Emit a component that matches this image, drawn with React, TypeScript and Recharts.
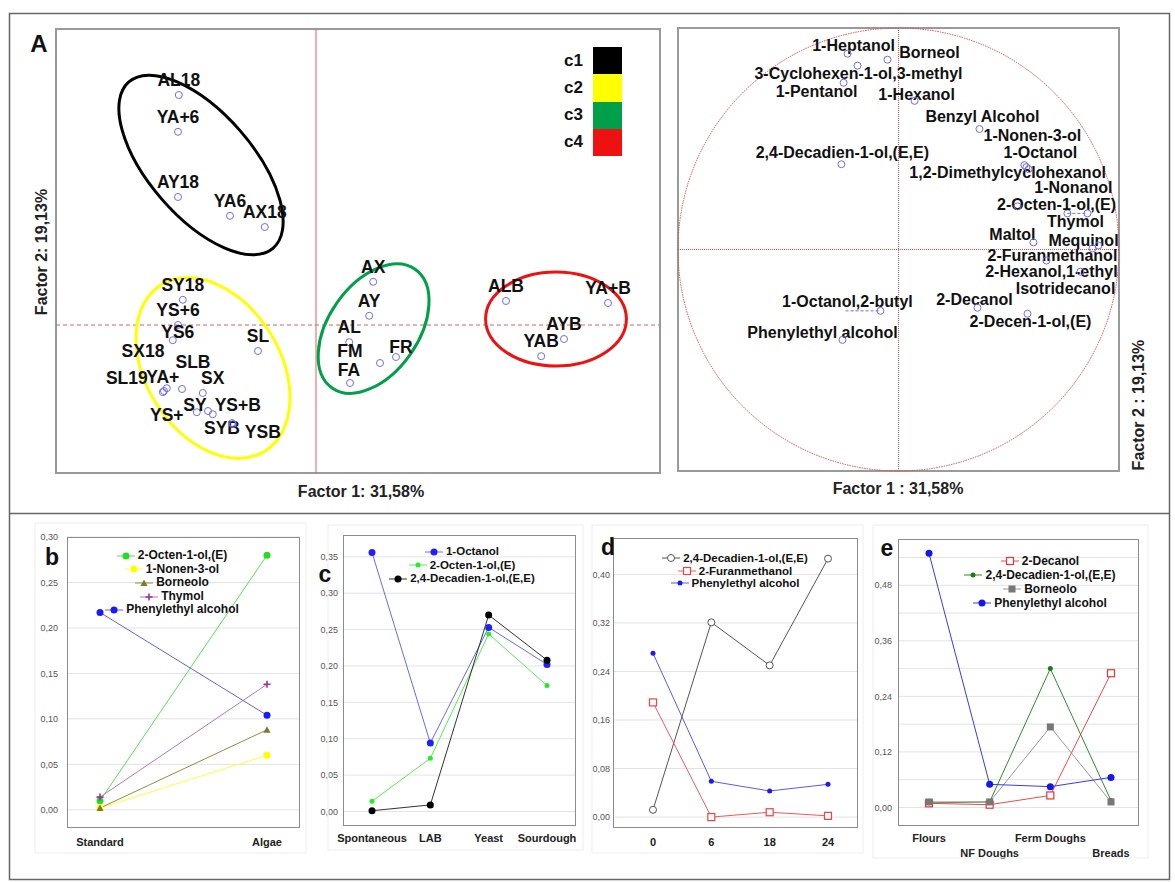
import React from "react";
import {
  ScatterChart,
  Scatter,
  LineChart,
  Line,
  XAxis,
  YAxis,
  ReferenceLine,
  ReferenceArea,
  ReferenceDot,
} from "recharts";

const FONT = "'Liberation Sans', Arial, Helvetica, sans-serif";

// ---------- A (left): sample scores on factor 1 / factor 2 ----------
const clusterC1 = [
  { name: "AL18", f1: -3.43, f2: 5.75 },
  { name: "YA+6", f1: -3.45, f2: 4.83 },
  { name: "AY18", f1: -3.45, f2: 3.2 },
  { name: "YA6", f1: -2.15, f2: 2.73 },
  { name: "AX18", f1: -1.28, f2: 2.45 },
];
const clusterC2 = [
  { name: "SY18", f1: -3.33, f2: 0.63 },
  { name: "YS+6", f1: -3.45, f2: 0.0 },
  { name: "YS6", f1: -3.58, f2: -0.38 },
  { name: "SL", f1: -1.45, f2: -0.65 },
  { name: "SL19", f1: -3.83, f2: -1.68 },
  { name: "SX18", f1: -3.8, f2: -1.65 },
  { name: "YA+", f1: -3.73, f2: -1.58 },
  { name: "SLB", f1: -3.35, f2: -1.6 },
  { name: "SX", f1: -2.83, f2: -1.7 },
  { name: "YS+", f1: -2.98, f2: -2.18 },
  { name: "SY", f1: -2.7, f2: -2.15 },
  { name: "YS+B", f1: -2.58, f2: -2.23 },
  { name: "SYB", f1: -2.1, f2: -2.45 },
  { name: "YSB", f1: -2.08, f2: -2.48 },
];
const clusterC3 = [
  { name: "AX", f1: 1.43, f2: 1.08 },
  { name: "AY", f1: 1.33, f2: 0.23 },
  { name: "AL", f1: 0.83, f2: -0.43 },
  { name: "FM", f1: 1.6, f2: -0.95 },
  { name: "FR", f1: 2.0, f2: -0.8 },
  { name: "FA", f1: 0.85, f2: -1.45 },
];
const clusterC4 = [
  { name: "ALB", f1: 4.75, f2: 0.6 },
  { name: "YA+B", f1: 7.3, f2: 0.55 },
  { name: "AYB", f1: 6.2, f2: -0.35 },
  { name: "YAB", f1: 5.63, f2: -0.78 },
];
// cluster ellipses: centre, semi-axes (factor units), tilt in degrees
const clusterEllipses = [
  { id: "c1", f1: -2.875, f2: 4.0, a: 2.75, b: 1.3, tilt: 49 },
  { id: "c2", f1: -2.575, f2: -1.075, a: 2.45, b: 1.675, tilt: 58 },
  { id: "c3", f1: 1.44, f2: -0.09, a: 1.81, b: 1.12, tilt: -55 },
  { id: "c4", f1: 6.0, f2: 0.15, a: 1.76, b: 1.175, tilt: 0 },
];
const clusterIds = ["c1", "c2", "c3", "c4"];

// ---------- A (right): variable loadings ----------
const loadings = [
  { name: "1-Heptanol", f1: -0.231, f2: 0.884 },
  { name: "Borneol", f1: -0.05, f2: 0.857 },
  { name: "3-Cyclohexen-1-ol,3-methyl", f1: -0.186, f2: 0.83 },
  { name: "1-Pentanol", f1: -0.249, f2: 0.753 },
  { name: "1-Hexanol", f1: 0.073, f2: 0.671 },
  { name: "Benzyl Alcohol", f1: 0.367, f2: 0.544 },
  { name: "1-Nonen-3-ol", f1: 0.571, f2: 0.381 },
  { name: "1-Octanol", f1: 0.58, f2: 0.372 },
  { name: "1,2-Dimethylcyclohexanol", f1: 0.59, f2: 0.363 },
  { name: "2,4-Decadien-1-ol,(E,E)", f1: -0.259, f2: 0.385 },
  { name: "1-Nonanol", f1: 0.766, f2: 0.163 },
  { name: "2-Octen-1-ol,(E)", f1: 0.54, f2: 0.195 },
  { name: "Thymol", f1: 0.857, f2: 0.163 },
  { name: "Maltol", f1: 0.612, f2: 0.032 },
  { name: "Mequinol", f1: 0.907, f2: 0.018 },
  { name: "Isotridecanol", f1: 0.88, f2: 0.005 },
  { name: "2-Furanmethanol", f1: 0.671, f2: -0.05 },
  { name: "2-Hexanol,1-ethyl", f1: 0.825, f2: -0.1 },
  { name: "2-Decanol", f1: 0.358, f2: -0.263 },
  { name: "2-Decen-1-ol,(E)", f1: 0.585, f2: -0.29 },
  { name: "1-Octanol,2-butyl", f1: -0.082, f2: -0.277 },
  { name: "Phenylethyl alcohol", f1: -0.254, f2: -0.408 },
];
const thymolLink = [
  { f1: 0.766, f2: 0.163 },
  { f1: 0.857, f2: 0.163 },
];
const butylLink = [
  { f1: -0.24, f2: -0.277 },
  { f1: -0.082, f2: -0.277 },
];

// ---------- b ----------
const bCategories = ["Standard", "Algae"];
const bOctenol = [0.01, 0.28];
const bNonenol = [0.002, 0.06];
const bBorneolo = [0.002, 0.088];
const bThymol = [0.014, 0.138];
const bPhenylethyl = [0.217, 0.104];
const bTicks = [0, 0.05, 0.1, 0.15, 0.2, 0.25, 0.3];

// ---------- c ----------
const cCategories = ["Spontaneous", "LAB", "Yeast", "Sourdough"];
const cOctanol = [0.356, 0.094, 0.253, 0.202];
const cOctenol = [0.014, 0.073, 0.244, 0.173];
const cDecadienol = [0.001, 0.009, 0.27, 0.208];
const cTicks = [0, 0.05, 0.1, 0.15, 0.2, 0.25, 0.3, 0.35];

// ---------- d ----------
const dCategories = ["0", "6", "18", "24"];
const dDecadienol = [0.012, 0.321, 0.25, 0.426];
const dFuranmethanol = [0.189, 0.0, 0.008, 0.002];
const dPhenylethyl = [0.27, 0.059, 0.043, 0.054];
const dTicks = [0, 0.08, 0.16, 0.24, 0.32, 0.4];

// ---------- e ----------
const eCategories = ["Flours", "NF Doughs", "Ferm Doughs", "Breads"];
const eDecanol = [0.009, 0.006, 0.026, 0.29];
const eDecadienol = [0.01, 0.012, 0.3, 0.015];
const eBorneolo = [0.012, 0.012, 0.174, 0.012];
const ePhenylethyl = [0.549, 0.05, 0.045, 0.065];
const eTicks = [0, 0.12, 0.24, 0.36, 0.48];
const eGrid = [0, 0.06, 0.12, 0.18, 0.24, 0.3, 0.36, 0.42, 0.48, 0.54];

// ---------- styling ----------
const clusterColor: Record<string, string> = {
  c1: "#000000",
  c2: "#ffff00",
  c3: "#00a04a",
  c4: "#ee1111",
};
const scoreLabelOffset: Record<string, [number, number]> = {
  YS6: [5, -8],
  SL19: [-36, -14],
  SX18: [-21, -40],
  "YA+": [-4, -11],
  SLB: [11, -27],
  SX: [10, -15],
  "YS+": [-30, 3],
  SY: [-13, -6],
  "YS+B": [25, -9],
  SYB: [-10, 5],
  YSB: [30, 8],
  FM: [-30, -12],
  FR: [5, -10],
  FA: [-1, -13],
};
const loadLabelOffset: Record<string, [number, number]> = {
  "1-Heptanol": [6, -8],
  Borneol: [42, -7],
  "3-Cyclohexen-1-ol,3-methyl": [1, 8],
  "1-Pentanol": [-27, 9],
  "1-Hexanol": [2, -6],
  "Benzyl Alcohol": [3, -13],
  "1-Nonen-3-ol": [8, -30],
  "1-Octanol": [14, -15],
  "1,2-Dimethylcyclohexanol": [-21, 3],
  "2,4-Decadien-1-ol,(E,E)": [1, -12],
  "1-Nonanol": [6, -26],
  "2-Octen-1-ol,(E)": [39, -2],
  Thymol: [-12, 8],
  Maltol: [-21, -8],
  Mequinol: [-15, -5],
  Isotridecanol: [-27, 40],
  "2-Furanmethanol": [6, -5],
  "2-Hexanol,1-ethyl": [-29, 0],
  "2-Decanol": [-3, -8],
  "2-Decen-1-ol,(E)": [3, 8],
  "1-Octanol,2-butyl": [-33, -9],
  "Phenylethyl alcohol": [-20, -7],
};

const SCORE_X: [number, number] = [-6.5, 8.6];
const SCORE_Y: [number, number] = [-3.7, 7.4];
const SCORE_W = 680;
const SCORE_H = 510;
const SCORE_M = { top: 29, left: 56, right: 20, bottom: 37 };
const SCORE_PX = (SCORE_W - SCORE_M.left - SCORE_M.right) / (SCORE_X[1] - SCORE_X[0]);

const LOAD_W = 515;
const LOAD_H = 510;
const LOAD_M = { top: 28, left: 18, right: 56, bottom: 39 };
const LOAD_PW = LOAD_W - LOAD_M.left - LOAD_M.right;
const LOAD_PH = LOAD_H - LOAD_M.top - LOAD_M.bottom;

const comma = (v: number) => v.toFixed(2).replace(".", ",");

function ScorePoint(props: any) {
  const { cx, cy, payload } = props;
  const [dx, dy] = scoreLabelOffset[payload.name] ?? [0, -15];
  return (
    <g>
      <text
        x={cx + dx}
        y={cy + dy}
        textAnchor="middle"
        dominantBaseline="central"
        fontFamily={FONT}
        fontWeight="bold"
        fontSize={17.5}
        fill="#111"
      >
        {payload.name}
      </text>
      <circle cx={cx} cy={cy} r={3.5} fill="none" stroke="#6f6fe6" strokeWidth={1} />
    </g>
  );
}

function ClusterEllipse(props: any) {
  const { cx, cy, payload } = props;
  return (
    <ellipse
      cx={cx}
      cy={cy}
      rx={payload.a * SCORE_PX}
      ry={payload.b * SCORE_PX}
      transform={`rotate(${payload.tilt} ${cx} ${cy})`}
      fill="none"
      stroke={clusterColor[payload.id]}
      strokeWidth={3}
    />
  );
}

function LoadPoint(props: any) {
  const { cx, cy, payload } = props;
  const [dx, dy] = loadLabelOffset[payload.name] ?? [0, -12];
  return (
    <g>
      <text
        x={cx + dx}
        y={cy + dy}
        textAnchor="middle"
        dominantBaseline="central"
        fontFamily={FONT}
        fontWeight="bold"
        fontSize={16}
        fill="#111"
      >
        {payload.name}
      </text>
      <circle cx={cx} cy={cy} r={3.5} fill="none" stroke="#6f6fe6" strokeWidth={1} />
    </g>
  );
}

function ScorePlot() {
  return (
    <div style={{ position: "absolute", left: 0, top: 0, width: SCORE_W, height: SCORE_H }}>
      <ScatterChart width={SCORE_W} height={SCORE_H} margin={SCORE_M}>
        <XAxis type="number" dataKey="f1" domain={SCORE_X} hide allowDataOverflow />
        <YAxis type="number" dataKey="f2" domain={SCORE_Y} hide allowDataOverflow />
        <ReferenceArea
          x1={SCORE_X[0]}
          x2={SCORE_X[1]}
          y1={SCORE_Y[0]}
          y2={SCORE_Y[1]}
          fill="none"
          stroke="#9a9a9a"
          strokeWidth={2}
        />
        <ReferenceLine x={0} stroke="#e06060" strokeWidth={1} />
        <ReferenceLine y={0} stroke="#e06060" strokeWidth={1} strokeDasharray="4 3" />
        <Scatter data={clusterEllipses} shape={ClusterEllipse} isAnimationActive={false} />
        <Scatter data={clusterC1} shape={ScorePoint} isAnimationActive={false} />
        <Scatter data={clusterC2} shape={ScorePoint} isAnimationActive={false} />
        <Scatter data={clusterC3} shape={ScorePoint} isAnimationActive={false} />
        <Scatter data={clusterC4} shape={ScorePoint} isAnimationActive={false} />
      </ScatterChart>
    </div>
  );
}

function LoadingPlot() {
  return (
    <div style={{ position: "absolute", left: 660, top: 0, width: LOAD_W, height: LOAD_H }}>
      <ScatterChart width={LOAD_W} height={LOAD_H} margin={LOAD_M}>
        <XAxis type="number" dataKey="f1" domain={[-1, 1]} hide allowDataOverflow />
        <YAxis type="number" dataKey="f2" domain={[-1, 1]} hide allowDataOverflow />
        <ReferenceArea x1={-1} x2={1} y1={-1} y2={1} fill="none" stroke="#9a9a9a" strokeWidth={2} />
        <ReferenceLine x={0} stroke="#ff4040" strokeWidth={1} strokeDasharray="1 1" />
        <ReferenceLine y={0} stroke="#ff4040" strokeWidth={1} strokeDasharray="1 1" />
        <ReferenceDot
          x={0}
          y={0}
          shape={(p: any) => (
            <ellipse
              cx={p.cx}
              cy={p.cy}
              rx={LOAD_PW / 2}
              ry={LOAD_PH / 2}
              fill="none"
              stroke="#d85050"
              strokeWidth={1}
              strokeDasharray="1.5 1"
            />
          )}
        />
        <Scatter
          data={thymolLink}
          line={{ stroke: "#6f6fe6", strokeDasharray: "3 2" }}
          shape={() => <g />}
          isAnimationActive={false}
        />
        <Scatter
          data={butylLink}
          line={{ stroke: "#6f6fe6", strokeDasharray: "3 2" }}
          shape={() => <g />}
          isAnimationActive={false}
        />
        <Scatter data={loadings} shape={LoadPoint} isAnimationActive={false} />
      </ScatterChart>
    </div>
  );
}

type MarkerKind = "dot" | "smalldot" | "open" | "square" | "fsquare" | "tri" | "star";

function Marker({ kind, cx, cy, color }: { kind: MarkerKind; cx: number; cy: number; color: string }) {
  switch (kind) {
    case "dot":
      return <circle cx={cx} cy={cy} r={3.5} fill={color} />;
    case "smalldot":
      return <circle cx={cx} cy={cy} r={2.5} fill={color} />;
    case "open":
      return <circle cx={cx} cy={cy} r={3.5} fill="#fff" stroke={color} strokeWidth={1} />;
    case "square":
      return <rect x={cx - 3.5} y={cy - 3.5} width={7} height={7} fill="#fff" stroke={color} strokeWidth={1.2} />;
    case "fsquare":
      return <rect x={cx - 3.5} y={cy - 3.5} width={7} height={7} fill={color} />;
    case "tri":
      return <path d={`M${cx},${cy - 3.5}L${cx + 3.5},${cy + 3}L${cx - 3.5},${cy + 3}Z`} fill={color} />;
    default:
      return (
        <path
          d={`M${cx - 3.5},${cy}H${cx + 3.5}M${cx},${cy - 3.5}V${cy + 3.5}`}
          stroke={color}
          strokeWidth={1.6}
        />
      );
  }
}

type SeriesDef = {
  key: string;
  label: string;
  values: number[];
  line: string;
  mark: string;
  marker: MarkerKind;
};

const bSeries: SeriesDef[] = [
  { key: "octenol", label: "2-Octen-1-ol,(E)", values: bOctenol, line: "#55e055", mark: "#22dd22", marker: "dot" },
  { key: "nonenol", label: "1-Nonen-3-ol", values: bNonenol, line: "#ffff40", mark: "#ffff00", marker: "dot" },
  { key: "borneolo", label: "Borneolo", values: bBorneolo, line: "#8f8f40", mark: "#7a7a2a", marker: "tri" },
  { key: "thymol", label: "Thymol", values: bThymol, line: "#b478b4", mark: "#993399", marker: "star" },
  { key: "phenyl", label: "Phenylethyl alcohol", values: bPhenylethyl, line: "#6262e2", mark: "#1a1aff", marker: "dot" },
];
const cSeries: SeriesDef[] = [
  { key: "octanol", label: "1-Octanol", values: cOctanol, line: "#6a6aee", mark: "#2020ff", marker: "dot" },
  { key: "octenol", label: "2-Octen-1-ol,(E)", values: cOctenol, line: "#55ee55", mark: "#22ee22", marker: "smalldot" },
  { key: "decadienol", label: "2,4-Decadien-1-ol,(E,E)", values: cDecadienol, line: "#333333", mark: "#000000", marker: "dot" },
];
const dSeries: SeriesDef[] = [
  { key: "decadienol", label: "2,4-Decadien-1-ol,(E,E)", values: dDecadienol, line: "#555555", mark: "#555555", marker: "open" },
  { key: "furan", label: "2-Furanmethanol", values: dFuranmethanol, line: "#ee5a5a", mark: "#ee4444", marker: "square" },
  { key: "phenyl", label: "Phenylethyl alcohol", values: dPhenylethyl, line: "#5a5aee", mark: "#1a1aee", marker: "smalldot" },
];
const eSeries: SeriesDef[] = [
  { key: "decanol", label: "2-Decanol", values: eDecanol, line: "#ee4a4a", mark: "#ee3333", marker: "square" },
  { key: "decadienol", label: "2,4-Decadien-1-ol,(E,E)", values: eDecadienol, line: "#2e8b2e", mark: "#1f7a1f", marker: "smalldot" },
  { key: "borneolo", label: "Borneolo", values: eBorneolo, line: "#9a9a9a", mark: "#777777", marker: "fsquare" },
  { key: "phenyl", label: "Phenylethyl alcohol", values: ePhenylethyl, line: "#3a3aee", mark: "#1515ee", marker: "dot" },
];

const buildRows = (cats: string[], series: SeriesDef[]) =>
  cats.map((cat, i) => {
    const row: Record<string, string | number> = { cat };
    series.forEach((s) => (row[s.key] = s.values[i]));
    return row;
  });

type PanelProps = {
  plot: { x: number; y: number; w: number; h: number };
  categories: string[];
  series: SeriesDef[];
  domain: [number, number];
  ticks: number[];
  grid: number[];
  padding: { left: number; right: number };
  tickGap: number;
  tickDy: number;
  alternate?: boolean;
};

function LinePanel({ plot, categories, series, domain, ticks, grid, padding, tickGap, tickDy, alternate }: PanelProps) {
  const L = 60;
  const T = 20;
  const R = 10;
  const B = 50;
  const width = plot.w + L + R;
  const height = plot.h + T + B;
  const data = buildRows(categories, series);
  return (
    <div style={{ position: "absolute", left: plot.x - L, top: plot.y - T, width, height }}>
      <LineChart width={width} height={height} data={data} margin={{ top: T, right: R, left: L - 50, bottom: B - 30 }}>
        <XAxis
          dataKey="cat"
          height={30}
          padding={padding}
          axisLine={false}
          tickLine={false}
          interval={0}
          tick={(p: any) => {
            const idx = categories.indexOf(p.payload.value);
            const shift = alternate && idx % 2 === 1 ? 15 : 0;
            return (
              <text
                x={p.x}
                y={p.y + tickDy + shift}
                textAnchor="middle"
                dominantBaseline="central"
                fontFamily={FONT}
                fontWeight="bold"
                fontSize={11}
                fill="#222"
              >
                {p.payload.value}
              </text>
            );
          }}
        />
        <YAxis
          width={50}
          type="number"
          domain={domain}
          ticks={ticks}
          allowDataOverflow
          axisLine={false}
          tickLine={false}
          tickSize={tickGap - 2}
          tickMargin={2}
          tickFormatter={comma}
          tick={{ fontSize: 9, fill: "#555", fontFamily: FONT }}
        />
        {grid.map((v) => (
          <ReferenceLine key={v} y={v} stroke="#e3e3e3" strokeWidth={1} />
        ))}
        {series.map((s) => (
          <Line
            key={s.key}
            dataKey={s.key}
            type="linear"
            stroke={s.line}
            strokeWidth={1}
            isAnimationActive={false}
            dot={(p: any) => (
              <Marker key={`${s.key}-${p.index}`} kind={s.marker} cx={p.cx} cy={p.cy} color={s.mark} />
            )}
            activeDot={false}
          />
        ))}
      </LineChart>
      <div
        style={{
          position: "absolute",
          left: L,
          top: T,
          width: plot.w,
          height: plot.h,
          border: "1px solid #8c8c8c",
          boxSizing: "border-box",
          pointerEvents: "none",
        }}
      />
    </div>
  );
}

function SeriesLegend({
  series,
  centerX,
  top,
  rowH,
  fontSize,
}: {
  series: SeriesDef[];
  centerX: number;
  top: number;
  rowH: number;
  fontSize: number;
}) {
  const width = 220;
  return (
    <div style={{ position: "absolute", left: centerX - width / 2, top, width, fontFamily: FONT }}>
      {series.map((s) => (
        <div
          key={s.key}
          style={{ height: rowH, display: "flex", justifyContent: "center", alignItems: "center", gap: 3 }}
        >
          <svg width={18} height={10}>
            <line x1={0} y1={5} x2={18} y2={5} stroke={s.line} strokeWidth={1} />
            <Marker kind={s.marker} cx={9} cy={5} color={s.mark} />
          </svg>
          <span style={{ fontSize, fontWeight: "bold", color: "#111", whiteSpace: "nowrap", lineHeight: `${rowH}px` }}>
            {s.label}
          </span>
        </div>
      ))}
    </div>
  );
}

function ClusterKey() {
  return (
    <div style={{ position: "absolute", left: 545, top: 47, fontFamily: FONT }}>
      {clusterIds.map((id) => (
        <div key={id} style={{ display: "flex", alignItems: "center", height: 27.25 }}>
          <span
            style={{ width: 38, textAlign: "right", fontSize: 17, fontWeight: "bold", color: "#111", paddingRight: 10 }}
          >
            {id}
          </span>
          <div style={{ width: 29, height: 27.25, background: clusterColor[id] }} />
        </div>
      ))}
    </div>
  );
}

function Annotations() {
  const t = { fontFamily: FONT, fontWeight: "bold" as const, fill: "#111" };
  return (
    <svg
      width={1175}
      height={882}
      style={{ position: "absolute", left: 0, top: 0, pointerEvents: "none" }}
    >
      <rect x={9.5} y={13.5} width={1160} height={866} fill="none" stroke="#666" strokeWidth={1.5} />
      <line x1={9} y1={513.5} x2={1170} y2={513.5} stroke="#666" strokeWidth={1.5} />
      <rect x={35} y={523} width={271} height={330} fill="none" stroke="#eeeeee" />
      <rect x={328} y={525} width={255} height={325} fill="none" stroke="#eeeeee" />
      <rect x={592} y={525} width={271} height={328} fill="none" stroke="#eeeeee" />
      <rect x={873} y={525} width={275} height={333} fill="none" stroke="#eeeeee" />

      <text x={39} y={43} {...t} fontSize={24} textAnchor="middle" dominantBaseline="central">
        A
      </text>
      <text x={361} y={491} {...t} fill="#222" fontSize={16} textAnchor="middle" dominantBaseline="central">
        Factor 1: 31,58%
      </text>
      <text
        x={41}
        y={252}
        {...t}
        fill="#222"
        fontSize={16}
        textAnchor="middle"
        dominantBaseline="central"
        transform="rotate(-90 41 252)"
      >
        Factor 2: 19,13%
      </text>
      <text x={898} y={488} {...t} fill="#222" fontSize={16} textAnchor="middle" dominantBaseline="central">
        Factor 1 : 31,58%
      </text>
      <text
        x={1138}
        y={405}
        {...t}
        fill="#222"
        fontSize={16}
        textAnchor="middle"
        dominantBaseline="central"
        transform="rotate(-90 1138 405)"
      >
        Factor 2 : 19,13%
      </text>

      <text x={52} y={557} {...t} fontSize={23} textAnchor="middle" dominantBaseline="central">
        b
      </text>
      <text x={325} y={574} {...t} fontSize={23} textAnchor="middle" dominantBaseline="central">
        c
      </text>
      <text x={608} y={547} {...t} fontSize={23} textAnchor="middle" dominantBaseline="central">
        d
      </text>
      <text x={887} y={548} {...t} fontSize={23} textAnchor="middle" dominantBaseline="central">
        e
      </text>
    </svg>
  );
}

export default function App() {
  return (
    <div
      style={{
        position: "absolute",
        left: 0,
        top: 0,
        width: 1175,
        height: 882,
        background: "#fff",
        fontFamily: FONT,
        overflow: "hidden",
      }}
    >
      <ScorePlot />
      <LoadingPlot />
      <ClusterKey />

      <LinePanel
        plot={{ x: 67, y: 537, w: 233, h: 291 }}
        categories={bCategories}
        series={bSeries}
        domain={[-0.02, 0.3]}
        ticks={bTicks}
        grid={bTicks}
        padding={{ left: 33, right: 33 }}
        tickGap={9}
        tickDy={6}
      />
      <LinePanel
        plot={{ x: 343, y: 535, w: 233, h: 291 }}
        categories={cCategories}
        series={cSeries}
        domain={[-0.02, 0.38]}
        ticks={cTicks}
        grid={cTicks}
        padding={{ left: 29, right: 29 }}
        tickGap={5}
        tickDy={4}
      />
      <LinePanel
        plot={{ x: 613, y: 538, w: 245, h: 290 }}
        categories={dCategories}
        series={dSeries}
        domain={[-0.018, 0.46]}
        ticks={dTicks}
        grid={dTicks}
        padding={{ left: 40, right: 30 }}
        tickGap={3}
        tickDy={6}
      />
      <LinePanel
        plot={{ x: 898, y: 539, w: 241, h: 287 }}
        categories={eCategories}
        series={eSeries}
        domain={[-0.04, 0.58]}
        ticks={eTicks}
        grid={eGrid}
        padding={{ left: 31, right: 28 }}
        tickGap={6}
        tickDy={4}
        alternate
      />

      <SeriesLegend series={bSeries} centerX={172} top={549} rowH={13.6} fontSize={12} />
      <SeriesLegend series={cSeries} centerX={462} top={545} rowH={13.5} fontSize={11.5} />
      <SeriesLegend series={dSeries} centerX={735} top={552} rowH={12.5} fontSize={11.5} />
      <SeriesLegend series={eSeries} centerX={1040} top={554} rowH={14} fontSize={12} />

      <Annotations />
    </div>
  );
}
